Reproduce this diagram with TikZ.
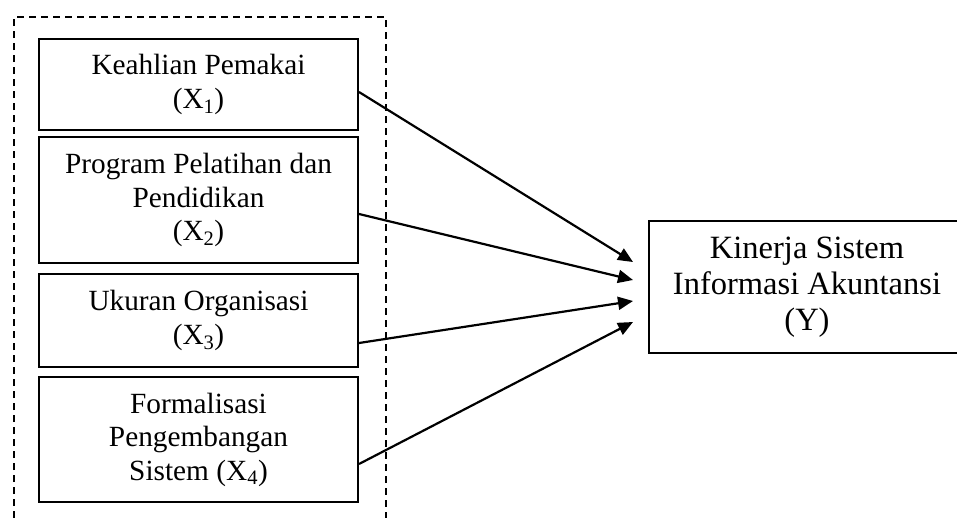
\documentclass[tikz,border=0pt]{standalone}
\usepackage{fontspec}
\setmainfont{Liberation Serif}
\usetikzlibrary{arrows.meta}
\tikzset{
  varbox/.style={draw, line width=2pt, minimum width=319pt, inner sep=0pt, align=center,
    font=\fontsize{29.3}{33.5}\selectfont},
  ybox/.style={draw, line width=2pt, minimum width=316pt, minimum height=132pt, inner sep=0pt, align=center,
    font=\fontsize{32.5}{36}\selectfont},
  conn/.style={line width=2.2pt, -{Triangle[length=15pt,width=13pt]}},
  group/.style={line width=1.6pt, dash pattern=on 7pt off 5pt}
}
\begin{document}
\begin{tikzpicture}[x=1pt,y=-1pt]
\useasboundingbox (0,0) rectangle (957,517);
\clip (0,0) rectangle (957,517);
\fill[white] (0,0) rectangle (957,517);
\draw[group] (14,530) -- (14,17) -- (386,17) -- (386,530);
\node[varbox, minimum height=91pt] (b1) at (198.5,84.5) {Keahlian Pemakai\\(X\textsubscript{1})};
\node[varbox, minimum height=126pt] (b2) at (198.5,200) {Program Pelatihan dan\\Pendidikan\\(X\textsubscript{2})};
\node[varbox, minimum height=93pt] (b3) at (198.5,320.5) {Ukuran Organisasi\\(X\textsubscript{3})};
\node[varbox, minimum height=125pt] (b4) at (198.5,439.5) {Formalisasi\\Pengembangan\\Sistem (X\textsubscript{4})};
\node[ybox] (y) at (807,287) {Kinerja Sistem\\Informasi Akuntansi\\(Y)};
\coordinate (t1) at (633,262);
\coordinate (t2) at (633,280);
\coordinate (t3) at (633,301);
\coordinate (t4) at (633,322);
\draw[conn] ([yshift=-7.5pt]b1.east) -- (t1);
\draw[conn] ([yshift=-14pt]b2.east) -- (t2);
\draw[conn] ([yshift=-22.5pt]b3.east) -- (t3);
\draw[conn] ([yshift=-24.5pt]b4.east) -- (t4);
\end{tikzpicture}
\end{document}
